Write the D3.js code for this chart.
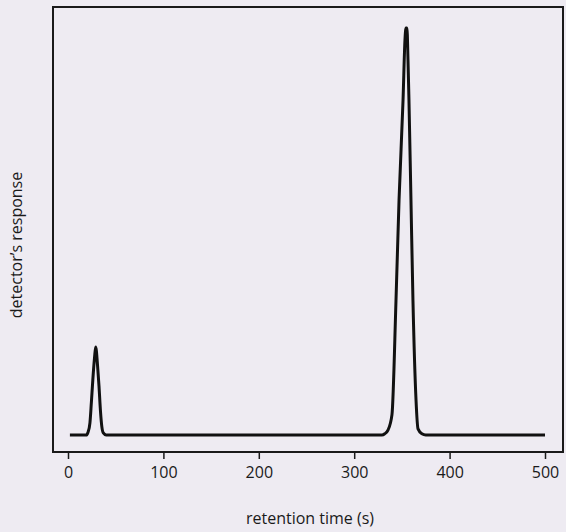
<!DOCTYPE html>
<html>
<head>
<meta charset="utf-8">
<script src="https://cdn.jsdelivr.net/npm/d3@7"></script>
<style>
  body { margin: 0; background: #eeebf2; }
  text { font-family: "Open Sans", sans-serif; fill: #1a1a1a; }
</style>
</head>
<body>
<div id="viz-container"></div>
<script>
// retention time (s)
let times = [2, 19, 21, 23, 24.5, 26, 27.8, 29, 31, 32.5, 34, 35.5, 37, 40,
             329, 332, 335.4, 339.6, 343.8, 347, 351.2, 353.2, 354.3,
             355.3, 356.4, 357.4, 359.5, 361.6, 364.8, 366.9, 371, 375, 500];
// detector's response (arbitrary units, tallest peak = 100)
let response = [0, 0, 0.7, 3, 8, 13.5, 19, 21.6, 17, 12, 6, 2, 0.5, 0,
                0, 0.3, 1.2, 5, 33, 57.7, 82.3, 97, 100,
                100, 92, 82.3, 57.7, 33, 8.6, 1.5, 0.3, 0, 0];
let tickLabels = [0, 100, 200, 300, 400, 500];

let viz = d3.select("#viz-container")
    .append("svg")
    .attr("width", 566)
    .attr("height", 532)
    .style("background-color", "#eeebf2");

let x = d3.scaleLinear().domain([0, 500]).range([68, 545]);
let y = d3.scaleLinear().domain([0, 100]).range([435, 28]);

// frame
viz.append("rect")
    .attr("x", 53)
    .attr("y", 7)
    .attr("width", 510)
    .attr("height", 445)
    .attr("fill", "none")
    .attr("stroke", "#1a1a1a")
    .attr("stroke-width", 2);

// bottom axis, ticks only
let xAxis = viz.append("g")
    .attr("transform", "translate(0,452)")
    .call(d3.axisBottom(x).tickValues(tickLabels).tickSize(7).tickPadding(8));
xAxis.select(".domain").remove();
xAxis.selectAll("line").attr("stroke", "#1a1a1a").attr("stroke-width", 1.5);
xAxis.selectAll("text").style("font-size", "16px").style("font-family", "Open Sans, sans-serif");

// trace
let points = times.map((t, i) => [t, response[i]]);
let line = d3.line()
    .x(d => x(d[0]))
    .y(d => y(d[1]))
    .curve(d3.curveMonotoneX);

viz.append("path")
    .datum(points)
    .attr("d", line)
    .attr("fill", "none")
    .attr("stroke", "#111")
    .attr("stroke-width", 3)
    .attr("stroke-linejoin", "round");

// axis titles
viz.append("text")
    .text("retention time (s)")
    .attr("x", 310)
    .attr("y", 524)
    .attr("text-anchor", "middle")
    .style("font-size", "16px");

viz.append("text")
    .text("detector\u2019s response")
    .attr("transform", "translate(22,245) rotate(-90)")
    .attr("text-anchor", "middle")
    .style("font-size", "16px");
</script>
</body>
</html>
